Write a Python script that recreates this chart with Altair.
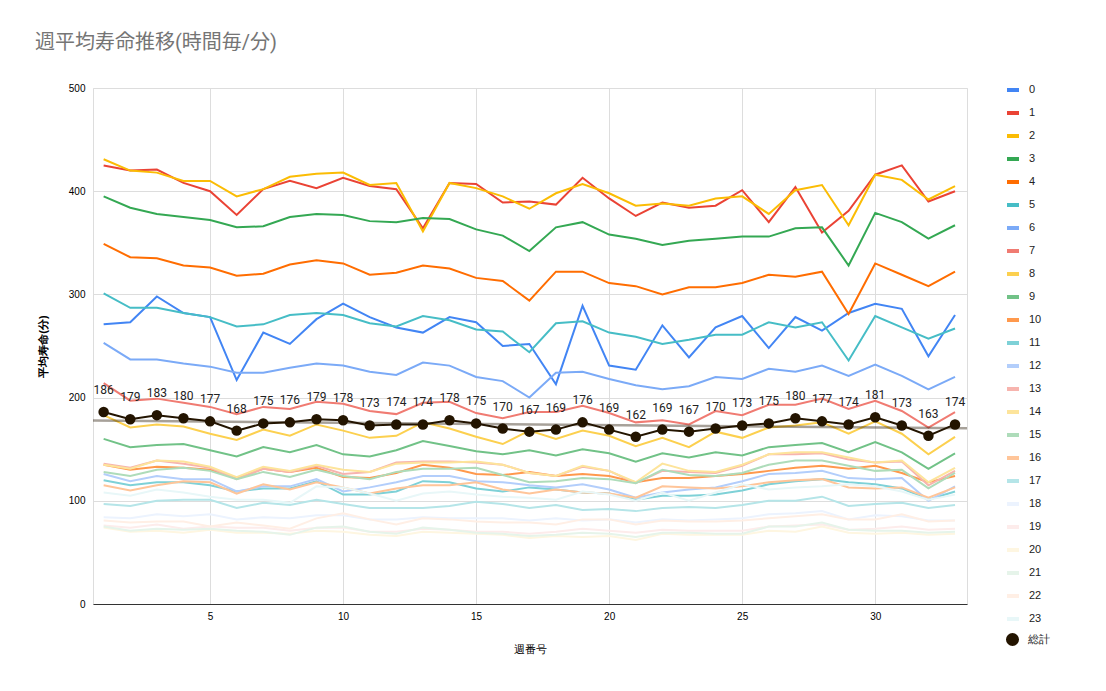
import altair as alt
import pandas as pd

weeks = list(range(1, 34))

s0 = [271, 273, 298, 282, 278, 217, 263, 252, 276, 291, 278, 268, 263, 278, 273, 250, 252, 213, 289, 231, 227, 270, 239, 268, 279, 248, 278, 265, 282, 291, 286, 240, 280]
s1 = [425, 420, 421, 408, 400, 377, 402, 410, 403, 413, 405, 402, 364, 408, 407, 389, 390, 387, 413, 393, 376, 389, 384, 386, 401, 370, 404, 360, 381, 416, 425, 390, 400]
s2 = [431, 420, 418, 410, 410, 395, 402, 414, 417, 418, 406, 408, 361, 408, 403, 395, 383, 398, 407, 398, 386, 388, 386, 393, 395, 378, 401, 406, 367, 416, 411, 392, 405]
s3 = [395, 384, 378, 375, 372, 365, 366, 375, 378, 377, 371, 370, 374, 373, 363, 357, 342, 365, 370, 358, 354, 348, 352, 354, 356, 356, 364, 365, 328, 379, 370, 354, 367]
s4 = [349, 336, 335, 328, 326, 318, 320, 329, 333, 330, 319, 321, 328, 325, 316, 313, 294, 322, 322, 311, 308, 300, 307, 307, 311, 319, 317, 322, 281, 330, 319, 308, 322]
s5 = [301, 287, 287, 282, 278, 269, 271, 280, 282, 280, 272, 269, 279, 275, 266, 264, 244, 272, 274, 263, 259, 252, 256, 261, 261, 273, 268, 273, 236, 279, 268, 257, 267]
s6 = [253, 237, 237, 233, 230, 224, 224, 229, 233, 231, 225, 222, 234, 231, 220, 216, 200, 224, 225, 218, 212, 208, 211, 220, 218, 228, 225, 231, 221, 232, 221, 208, 220]
s7 = [214, 197, 199, 195, 191, 184, 191, 189, 196, 194, 187, 184, 195, 196, 185, 180, 186, 186, 192, 185, 176, 178, 174, 187, 183, 193, 193, 199, 189, 197, 187, 171, 186]
s8 = [183, 171, 174, 172, 165, 159, 169, 163, 174, 168, 161, 163, 176, 170, 162, 155, 168, 160, 168, 163, 153, 161, 152, 167, 161, 171, 173, 176, 165, 177, 165, 145, 162]
s9 = [160, 152, 154, 155, 149, 143, 152, 147, 154, 145, 143, 149, 158, 153, 148, 145, 149, 144, 150, 146, 138, 146, 142, 147, 144, 152, 154, 156, 147, 157, 147, 131, 146]
s10 = [135, 130, 133, 132, 130, 122, 131, 128, 132, 123, 122, 127, 135, 132, 126, 125, 128, 124, 126, 124, 118, 122, 122, 124, 126, 129, 132, 134, 131, 134, 127, 118, 124]
s11 = [120, 115, 118, 118, 115, 109, 112, 112, 119, 106, 106, 109, 119, 118, 112, 109, 113, 111, 108, 107, 101, 105, 105, 106, 110, 116, 119, 121, 118, 116, 112, 101, 109]
s12 = [126, 119, 124, 121, 121, 109, 114, 114, 121, 109, 113, 118, 124, 124, 119, 118, 115, 113, 116, 111, 103, 108, 111, 113, 119, 126, 127, 129, 122, 121, 122, 100, 114]
s13 = [136, 132, 139, 136, 132, 121, 131, 128, 134, 126, 128, 137, 138, 138, 137, 135, 127, 124, 133, 129, 117, 129, 128, 127, 134, 145, 145, 146, 140, 137, 138, 115, 129]
s14 = [135, 131, 139, 138, 133, 123, 133, 129, 135, 130, 128, 136, 137, 137, 138, 135, 127, 124, 134, 129, 118, 136, 129, 128, 135, 145, 147, 147, 142, 137, 139, 118, 132]
s15 = [128, 124, 130, 132, 129, 121, 128, 123, 130, 124, 121, 128, 131, 131, 132, 125, 118, 119, 122, 121, 117, 130, 125, 124, 127, 135, 139, 139, 134, 129, 130, 112, 127]
s16 = [115, 110, 115, 119, 118, 107, 116, 111, 118, 113, 107, 112, 115, 115, 118, 111, 107, 111, 108, 107, 103, 114, 113, 112, 114, 118, 120, 121, 113, 112, 113, 103, 113]
s17 = [97, 95, 100, 101, 101, 93, 98, 96, 101, 97, 93, 93, 93, 95, 99, 97, 93, 96, 91, 92, 90, 93, 94, 93, 96, 100, 100, 104, 95, 97, 98, 93, 96]
s18 = [84, 83, 87, 85, 87, 82, 84, 83, 86, 86, 82, 82, 84, 83, 83, 83, 81, 83, 81, 82, 79, 82, 81, 82, 83, 87, 88, 90, 82, 86, 85, 81, 81]
s19 = [76, 74, 77, 73, 75, 74, 74, 71, 74, 74, 70, 70, 73, 72, 70, 70, 68, 70, 73, 71, 69, 72, 71, 71, 71, 75, 76, 77, 72, 73, 75, 72, 73]
s20 = [74, 70, 71, 69, 72, 69, 69, 68, 71, 70, 67, 66, 70, 69, 68, 67, 64, 66, 65, 66, 62, 68, 67, 67, 67, 71, 70, 75, 69, 68, 69, 67, 68]
s21 = [75, 71, 73, 72, 73, 71, 70, 67, 74, 75, 70, 68, 74, 72, 69, 68, 66, 67, 69, 68, 65, 69, 69, 68, 68, 75, 75, 79, 72, 71, 71, 69, 70]
s22 = [81, 79, 80, 80, 75, 79, 76, 73, 83, 88, 82, 77, 83, 82, 80, 79, 79, 77, 82, 82, 77, 81, 80, 80, 81, 83, 85, 87, 82, 82, 87, 80, 81]
s23 = [108, 105, 111, 108, 104, 101, 101, 98, 114, 113, 107, 100, 107, 109, 106, 104, 103, 101, 109, 106, 100, 108, 100, 108, 116, 111, 113, 114, 116, 114, 109, 101, 106]

total = [186, 179, 183, 180, 177, 168, 175, 176, 179, 178, 173, 174, 174, 178, 175, 170, 167, 169, 176, 169, 162, 169, 167, 170, 173, 175, 180, 177, 174, 181, 173, 163, 174]

series = [s0, s1, s2, s3, s4, s5, s6, s7, s8, s9, s10, s11, s12, s13, s14, s15,
          s16, s17, s18, s19, s20, s21, s22, s23]
names = [str(i) for i in range(24)]
colors = ["#4285F4", "#EA4335", "#FBBC04", "#34A853", "#FF6D01", "#46BDC6",
          "#7BAAF7", "#F07B72", "#FCD04F", "#71C287", "#FF994D", "#7ED1D7",
          "#B3CEFB", "#F7B4AE", "#FDE49B", "#AEDCBA", "#FFC599", "#B5E5E8",
          "#ECF3FE", "#FDECEB", "#FEF6E1", "#E6F4EA", "#FFEFE5", "#E8F7F8"]
total_name = "総計"
total_color = "#231400"

rows = []
for idx, (name, vals) in enumerate(zip(names, series)):
    for w, v in zip(weeks, vals):
        rows.append({"week": w, "series": name, "order": idx, "value": v})
df = pd.DataFrame(rows)
tdf = pd.DataFrame({"week": weeks, "value": total, "name": [total_name] * len(weeks)})

FONT = "Roboto, 'Noto Sans CJK JP', sans-serif"

x_enc = alt.X("week:Q",
              scale=alt.Scale(domain=[0.6, 33.45], nice=False, zero=False),
              axis=alt.Axis(values=[5, 10, 15, 20, 25, 30], title="週番号",
                            grid=True, ticks=False, labelPadding=7,
                            titlePadding=22, domainColor="#333333",
                            titleFontWeight="normal"))
y_enc = alt.Y("value:Q",
              scale=alt.Scale(domain=[0, 500], nice=False),
              axis=alt.Axis(values=[0, 100, 200, 300, 400, 500], title="平均寿命(分)",
                            grid=True, ticks=False, domain=False, labelPadding=8,
                            titlePadding=20, titleFontWeight="bold"))

lines = alt.Chart(df).mark_line(strokeWidth=2).encode(
    x=x_enc, y=y_enc,
    stroke=alt.Stroke("series:N",
                      scale=alt.Scale(domain=names, range=colors),
                      legend=alt.Legend(title=None, orient="none", legendX=912, legendY=-6,
                                        symbolType="stroke", symbolSize=144,
                                        symbolStrokeWidth=4, rowPadding=7,
                                        labelFontSize=11, labelColor="#222222",
                                        labelOffset=8)),
    order=alt.Order("order:Q"),
)

trend = alt.Chart(tdf).transform_regression(
    "week", "value", extent=[0.6, 33.45]
).mark_line(color=total_color, opacity=0.4, strokeWidth=2.5).encode(x=x_enc, y=y_enc)

tline = alt.Chart(tdf).mark_line(color=total_color, strokeWidth=2).encode(x=x_enc, y=y_enc)

tpoints = alt.Chart(tdf).mark_circle(size=110, opacity=1).encode(
    x=x_enc, y=y_enc,
    fill=alt.Fill("name:N",
                  scale=alt.Scale(domain=[total_name], range=[total_color]),
                  legend=alt.Legend(title=None, orient="none", legendX=912, legendY=544,
                                    symbolType="circle", symbolSize=170,
                                    labelFontSize=11, labelColor="#222222",
                                    labelOffset=8)),
)

labels = alt.Chart(tdf).mark_text(dy=-22, fontSize=12, color="#222222", font=FONT).encode(
    x=x_enc, y=y_enc, text=alt.Text("value:Q")
)

chart = alt.layer(lines, trend, tline, tpoints, labels).properties(
    width=874, height=516,
    autosize=alt.AutoSizeParams(type="none"),
    padding={"left": 85, "top": 80, "right": 130, "bottom": 74},
    title=alt.TitleParams("週平均寿命推移(時間毎/分)", anchor="start", frame="group",
                          dx=-58, offset=29, fontSize=20, fontWeight="normal",
                          color="#757575", font=FONT),
).configure_view(stroke=None).configure_axis(
    gridColor="#cccccc", labelFontSize=12, labelColor="#222222", labelFont=FONT,
    titleFont=FONT, titleFontSize=11, titleColor="#222222", titleFontWeight="normal"
).configure_legend(labelFont=FONT).configure(background="white")

chart.save("out.html", embed_options={"renderer": "svg", "actions": False})
